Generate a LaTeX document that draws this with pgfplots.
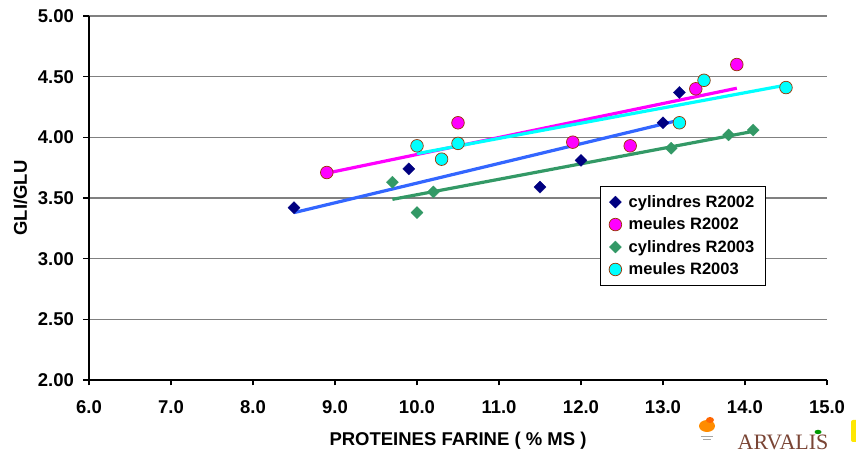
\documentclass[border=0pt]{standalone}
\usepackage{fontspec}
\setmainfont{Liberation Sans}
\newfontfamily\logofont{Liberation Serif}
\usepackage{pgfplots}
\usepackage{pgfplotstable}
\pgfplotsset{compat=1.18}

\definecolor{navyM}{HTML}{000080}
\definecolor{magM}{HTML}{FF00FF}
\definecolor{greenM}{HTML}{339966}
\definecolor{cyanM}{HTML}{00FFFF}
\definecolor{edgeM}{HTML}{993300}
\definecolor{blueL}{HTML}{3366FF}
\definecolor{gridC}{HTML}{808080}
\definecolor{arvalis}{HTML}{7A4535}

% GLI/GLU ratio against flour protein content (% dry matter)
\pgfplotstableread{
x y
8.5 3.42
9.9 3.74
11.5 3.59
12.0 3.81
13.0 4.12
13.2 4.37
}\cylA
\pgfplotstableread{
x y
8.9 3.71
10.5 4.12
11.9 3.96
12.6 3.93
13.4 4.40
13.9 4.60
}\meuA
\pgfplotstableread{
x y
9.7 3.63
10.0 3.38
10.2 3.55
13.1 3.91
13.8 4.02
14.1 4.06
}\cylB
\pgfplotstableread{
x y
10.0 3.93
10.3 3.82
10.5 3.95
13.2 4.12
13.5 4.47
14.5 4.41
}\meuB

\newcommand{\lbl}{\bfseries\fontsize{18.5}{22}\selectfont}
\newcommand{\leg}{\bfseries\fontsize{16.5}{19}\selectfont}

\begin{document}
\begin{tikzpicture}
\useasboundingbox (-89pt,-74pt) rectangle (767pt,380pt);
\begin{axis}[
  scale only axis, width=738pt, height=364pt,
  xmin=6, xmax=15, ymin=2, ymax=5,
  xtick={6,7,...,15}, ytick={2,2.5,...,5},
  axis x line*=bottom, axis y line*=left,
  axis line style={-, line width=1.6pt, black},
  ymajorgrids, grid style={gridC, line width=1.2pt},
  tick align=outside, major tick length=5.5pt,
  tick style={black, line width=1.2pt},
  /pgf/number format/assume math mode=true,
  xticklabel style={font=\lbl, yshift=-12pt, /pgf/number format/.cd, fixed, fixed zerofill, precision=1},
  yticklabel style={font=\lbl, xshift=-6pt, /pgf/number format/.cd, fixed, fixed zerofill, precision=2},
  xlabel={PROTEINES FARINE ( \% MS )}, ylabel={GLI/GLU},
  label style={font=\lbl},
  xlabel style={at={(axis description cs:0.5,-0.167)}, anchor=center},
  ylabel style={at={(axis description cs:-0.093,0.5)}, anchor=center},
  legend cell align=left,
  legend style={at={(0.692,0.533)}, anchor=north west, draw=black, line width=0.8pt,
    font=\leg, row sep=5pt, column sep=5pt, inner xsep=9pt, inner ysep=7pt,
    every even column/.append style={text width=134pt}},
  clip=false,
]
% regression lines
\addplot[blueL, line width=3.2pt, forget plot] table[x=x, y={create col/linear regression={y=y}}] {\cylA};
\addplot[magM, line width=3.2pt, forget plot] table[x=x, y={create col/linear regression={y=y}}] {\meuA};
\addplot[greenM, line width=3.2pt, forget plot] table[x=x, y={create col/linear regression={y=y}}] {\cylB};
\addplot[cyanM, line width=3.2pt, forget plot] table[x=x, y={create col/linear regression={y=y}}] {\meuB};
% measured points
\addplot[only marks, mark=square*, mark size=4.3pt, mark options={rotate=45, fill=navyM, draw=navyM, line width=0.2pt}] table[x=x, y=y] {\cylA};
\addlegendentry{cylindres R2002}
\addplot[only marks, mark=*, mark size=6.3pt, mark options={fill=magM, draw=edgeM, line width=0.7pt}] table[x=x, y=y] {\meuA};
\addlegendentry{meules R2002}
\addplot[only marks, mark=square*, mark size=4.3pt, mark options={rotate=45, fill=greenM, draw=greenM, line width=0.2pt}] table[x=x, y=y] {\cylB};
\addlegendentry{cylindres R2003}
\addplot[only marks, mark=*, mark size=6.3pt, mark options={fill=cyanM, draw=edgeM, line width=0.7pt}] table[x=x, y=y] {\meuB};
\addlegendentry{meules R2003}
\end{axis}
% logos
\fill[orange!90!yellow] (618pt,-46pt) ellipse (8pt and 6pt);
\fill[orange!80!red] (621pt,-40pt) ellipse (4pt and 3pt);
\fill[gray!70] (612pt,-56pt) rectangle (624pt,-57pt);
\fill[gray!70] (614pt,-59pt) rectangle (622pt,-60pt);
\node[arvalis, font=\logofont\fontsize{22}{24}\selectfont, inner sep=0pt] at (694pt,-62pt) {ARVALIS};
\fill[green!60!black] (729pt,-52pt) ellipse (3.5pt and 2.2pt);
\fill[yellow!90!orange, rounded corners=2pt] (762pt,-40pt) rectangle (772pt,-62pt);
\end{tikzpicture}
\end{document}
